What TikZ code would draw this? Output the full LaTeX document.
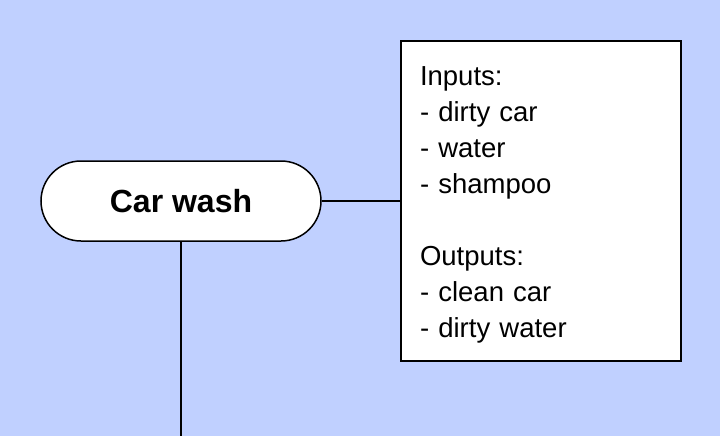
\documentclass[tikz,border=0pt]{standalone}
\usepackage{fontspec}
\setmainfont{Liberation Sans}
\definecolor{canvas}{RGB}{192,208,255}
\tikzset{
  step box/.style={draw, line width=1.5pt, fill=white, rounded corners=40pt,
    minimum width=280pt, minimum height=80pt, font=\fontsize{32}{36}\selectfont\bfseries},
  note box/.style={draw, line width=1.5pt, fill=white, minimum width=280pt,
    minimum height=320pt, align=left, text width=242pt, inner sep=0pt,
    font=\fontsize{27.5}{36}\selectfont},
  link/.style={line width=1.5pt}
}
\begin{document}
\begin{tikzpicture}[x=1pt, y=-1pt]
  \fill[canvas] (0,0) rectangle (720,436);
  \useasboundingbox (0,0) rectangle (720,436);

  \node (wash) at (181,201) [step box] {Car wash};
  \node (io) at (541,201) [note box] {\rule{0pt}{26pt}Inputs:\\- dirty car\\- water\\- shampoo\\[36pt]Outputs:\\- clean car\\- dirty water};
  \coordinate (down) at (181,436);

  \draw[link] (wash) -- (io);
  \draw[link] (wash) -- (down);
\end{tikzpicture}
\end{document}
